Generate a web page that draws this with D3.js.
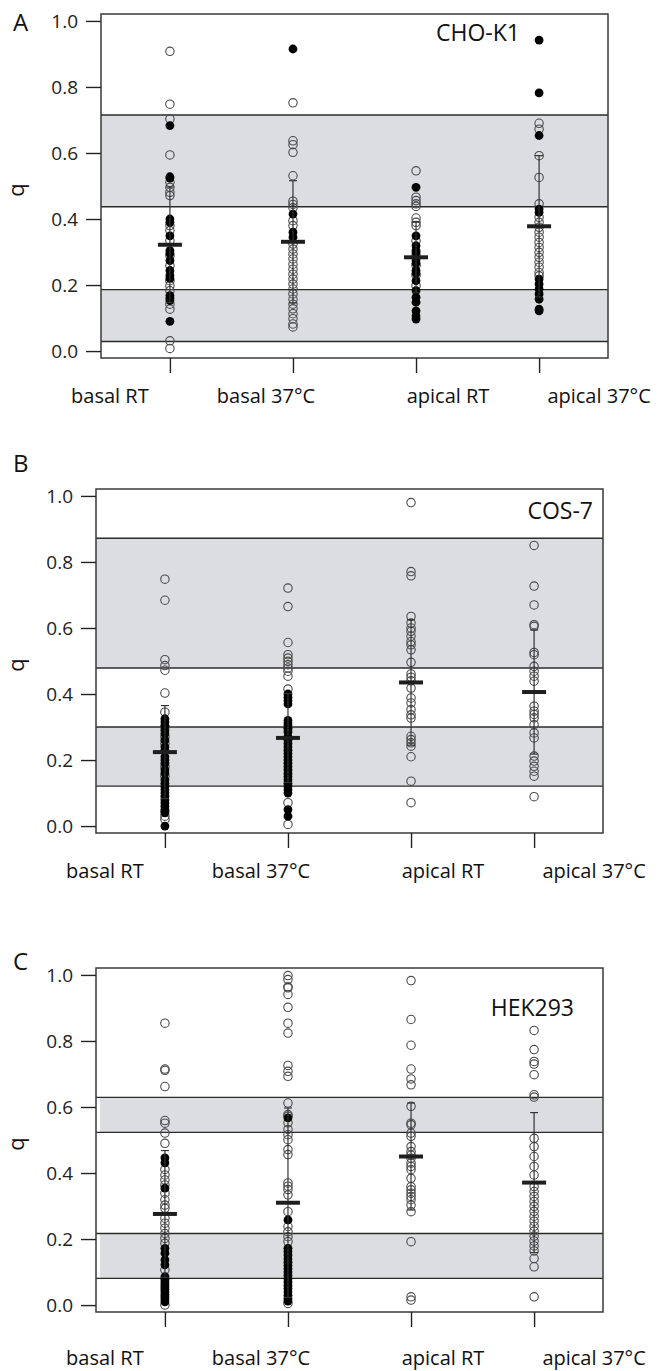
<!DOCTYPE html>
<html>
<head>
<meta charset="utf-8">
<script src="https://cdn.jsdelivr.net/npm/d3@7"></script>
<style>
  body { margin: 0; background: #fff; }
  svg { display: block; font-family: "Open Sans", sans-serif; }
</style>
</head>
<body>
<svg id="chart" width="657" height="1371"></svg>
<script>
const categories = ["basal RT", "basal 37°C", "apical RT", "apical 37°C"];
const yTicks = [0, 0.2, 0.4, 0.6, 0.8, 1.0];

// CHO-K1
const choOpen = [
  [0.908, 0.748, 0.703, 0.594, 0.511, 0.496, 0.481, 0.471, 0.38, 0.365, 0.334, 0.289, 0.259, 0.213, 0.198, 0.183, 0.142, 0.127, 0.031, 0.008],
  [0.752, 0.637, 0.625, 0.602, 0.531, 0.454, 0.444, 0.434, 0.395, 0.38, 0.324, 0.309, 0.294, 0.279, 0.263, 0.248, 0.233, 0.218, 0.203, 0.188, 0.173, 0.157, 0.142, 0.128, 0.113, 0.098, 0.082, 0.073],
  [0.546, 0.466, 0.456, 0.446, 0.438, 0.403, 0.39, 0.38, 0.334, 0.289, 0.259, 0.229, 0.198],
  [0.69, 0.672, 0.592, 0.526, 0.446, 0.405, 0.39, 0.375, 0.36, 0.345, 0.329, 0.314, 0.299, 0.284, 0.269, 0.254, 0.238, 0.228]
];
const choFilled = [
  [0.683, 0.528, 0.524, 0.4, 0.39, 0.349, 0.304, 0.296, 0.274, 0.244, 0.229, 0.22, 0.168, 0.16, 0.153, 0.09],
  [0.915, 0.415, 0.36, 0.345],
  [0.496, 0.349, 0.319, 0.304, 0.298, 0.274, 0.266, 0.244, 0.236, 0.213, 0.183, 0.163, 0.148, 0.122, 0.107, 0.097],
  [0.942, 0.782, 0.653, 0.43, 0.42, 0.218, 0.203, 0.188, 0.173, 0.157, 0.127, 0.122]
];
const choMean = [0.322, 0.331, 0.284, 0.378];
const choSD = [0.175, 0.185, 0.107, 0.214];
const choBands = [[0.029, 0.186], [0.437, 0.715]];

// COS-7
const cosOpen = [
  [0.748, 0.684, 0.504, 0.486, 0.472, 0.403, 0.345, 0.30, 0.27, 0.25, 0.18, 0.15, 0.03, 0.02],
  [0.721, 0.665, 0.556, 0.519, 0.509, 0.499, 0.489, 0.479, 0.469, 0.454, 0.415, 0.30, 0.071, 0.005],
  [0.98, 0.771, 0.758, 0.635, 0.615, 0.6, 0.59, 0.575, 0.559, 0.549, 0.534, 0.496, 0.461, 0.451, 0.44, 0.418, 0.388, 0.373, 0.353, 0.337, 0.327, 0.272, 0.262, 0.252, 0.242, 0.21, 0.136, 0.071],
  [0.85, 0.727, 0.67, 0.61, 0.605, 0.526, 0.519, 0.484, 0.469, 0.454, 0.439, 0.363, 0.348, 0.338, 0.328, 0.307, 0.282, 0.267, 0.212, 0.197, 0.181, 0.166, 0.151, 0.089]
];
const cosFilled = [
  [0.325, 0.315, 0.305, 0.29, 0.28, 0.26, 0.24, 0.23, 0.21, 0.2, 0.19, 0.17, 0.16, 0.14, 0.13, 0.12, 0.11, 0.10, 0.09, 0.08, 0.07, 0.06, 0.05, 0.045, 0.04, 0.0],
  [0.40, 0.39, 0.38, 0.37, 0.32, 0.31, 0.295, 0.285, 0.27, 0.26, 0.25, 0.24, 0.23, 0.22, 0.21, 0.2, 0.19, 0.18, 0.17, 0.16, 0.15, 0.14, 0.13, 0.12, 0.11, 0.10, 0.05, 0.03],
  [],
  []
];
const cosMean = [0.224, 0.267, 0.435, 0.406];
const cosSD = [0.141, 0.135, 0.19, 0.188];
const cosBands = [[0.121, 0.30], [0.479, 0.872]];

// HEK293
const hekOpen = [
  [0.854, 0.715, 0.711, 0.662, 0.559, 0.551, 0.521, 0.49, 0.411, 0.394, 0.379, 0.364, 0.339, 0.319, 0.303, 0.293, 0.263, 0.248, 0.233, 0.217, 0.202, 0.187, 0.107, 0.0],
  [0.998, 0.986, 0.964, 0.961, 0.941, 0.902, 0.854, 0.824, 0.726, 0.708, 0.693, 0.612, 0.577, 0.572, 0.552, 0.532, 0.516, 0.501, 0.471, 0.456, 0.37, 0.36, 0.35, 0.334, 0.283, 0.238, 0.222, 0.207, 0.192, 0.005],
  [0.983, 0.865, 0.787, 0.715, 0.685, 0.667, 0.602, 0.551, 0.546, 0.521, 0.511, 0.48, 0.465, 0.454, 0.445, 0.43, 0.42, 0.41, 0.384, 0.359, 0.349, 0.339, 0.329, 0.319, 0.303, 0.283, 0.192, 0.025, 0.015],
  [0.832, 0.774, 0.738, 0.73, 0.698, 0.637, 0.63, 0.505, 0.48, 0.45, 0.42, 0.394, 0.359, 0.344, 0.329, 0.314, 0.299, 0.284, 0.269, 0.254, 0.239, 0.224, 0.209, 0.194, 0.179, 0.164, 0.141, 0.116, 0.025]
];
const hekFilled = [
  [0.446, 0.431, 0.354, 0.172, 0.157, 0.137, 0.122, 0.086, 0.078, 0.07, 0.062, 0.055, 0.048, 0.04, 0.032, 0.025, 0.018, 0.01],
  [0.567, 0.258, 0.172, 0.162, 0.152, 0.14, 0.13, 0.12, 0.11, 0.1, 0.09, 0.08, 0.07, 0.06, 0.05, 0.04, 0.03, 0.02, 0.012],
  [],
  []
];
const hekMean = [0.276, 0.31, 0.45, 0.371];
const hekSD = [0.192, 0.287, 0.162, 0.212];
const hekBands = [[0.081, 0.217], [0.523, 0.629]];

// layout
const svg = d3.select("#chart");
const boxW = 507, boxH = 344;
const labelShift = [-60, -27, 32, 60];

const panels = [
  { letter: "A", name: "CHO-K1", left: 101, top: 14, open: choOpen, filled: choFilled, mean: choMean, sd: choSD, bands: choBands,
    nameX: 520, nameY: 41, letterY: 31, labelY: 403, bandInset: 0 },
  { letter: "B", name: "COS-7", left: 96, top: 489, open: cosOpen, filled: cosFilled, mean: cosMean, sd: cosSD, bands: cosBands,
    nameX: 593, nameY: 519, letterY: 472, labelY: 878, bandInset: 0 },
  { letter: "C", name: "HEK293", left: 96, top: 968, open: hekOpen, filled: hekFilled, mean: hekMean, sd: hekSD, bands: hekBands,
    nameX: 574, nameY: 1016, letterY: 970, labelY: 1365, bandInset: 4 }
];

panels.forEach(p => {
  const g = svg.append("g").attr("transform", `translate(${p.left},${p.top})`);
  const x = d3.scalePoint().domain(categories).range([0, boxW]).padding(0.56);
  const y = d3.scaleLinear().domain([-0.021, 1.021]).range([boxH, 0]);

  g.append("rect").attr("width", boxW).attr("height", boxH).attr("fill", "#fff");

  // reference bands
  g.selectAll(".band").data(p.bands).join("rect")
    .attr("x", p.bandInset).attr("width", boxW - p.bandInset)
    .attr("y", d => y(d[1])).attr("height", d => y(d[0]) - y(d[1]))
    .attr("fill", "#dcdde0");
  g.selectAll(".bandline").data(p.bands.flat()).join("line")
    .attr("x1", 0).attr("x2", boxW)
    .attr("y1", d => y(d)).attr("y2", d => y(d))
    .attr("stroke", "#2b2b2b").attr("stroke-width", 1.4);

  // points
  categories.forEach((c, i) => {
    g.selectAll(null).data(p.open[i]).join("circle")
      .attr("cx", x(c)).attr("cy", d => y(d)).attr("r", 4.2)
      .attr("fill", "none").attr("stroke", "#4a4a4a").attr("stroke-width", 1.1);
    g.selectAll(null).data(p.filled[i]).join("circle")
      .attr("cx", x(c)).attr("cy", d => y(d)).attr("r", 4.4)
      .attr("fill", "#000");
  });

  // error bars and means
  const stats = categories.map((c, i) => ({ c, m: p.mean[i], s: p.sd[i] }));
  g.selectAll(".err").data(stats).join("line")
    .attr("x1", d => x(d.c)).attr("x2", d => x(d.c))
    .attr("y1", d => y(d.m + d.s)).attr("y2", d => y(d.m - d.s))
    .attr("stroke", "#333").attr("stroke-width", 1.2);
  ["up", "lo"].forEach(k => {
    g.selectAll(null).data(stats).join("line")
      .attr("x1", d => x(d.c) - 4).attr("x2", d => x(d.c) + 4)
      .attr("y1", d => y(k === "up" ? d.m + d.s : d.m - d.s))
      .attr("y2", d => y(k === "up" ? d.m + d.s : d.m - d.s))
      .attr("stroke", "#333").attr("stroke-width", 1.2);
  });
  g.selectAll(".mean").data(stats).join("line")
    .attr("x1", d => x(d.c) - 12).attr("x2", d => x(d.c) + 12)
    .attr("y1", d => y(d.m)).attr("y2", d => y(d.m))
    .attr("stroke", "#1e1e1e").attr("stroke-width", 4);

  // frame
  g.append("rect").attr("width", boxW).attr("height", boxH)
    .attr("fill", "none").attr("stroke", "#3a3a3a").attr("stroke-width", 1.5);

  // axes
  const ya = g.append("g").call(d3.axisLeft(y).tickValues(yTicks).tickFormat(d3.format(".1f")).tickSize(15).tickPadding(8));
  ya.select(".domain").remove();
  ya.selectAll("line").attr("stroke", "#222").attr("stroke-width", 1.4);
  ya.selectAll("text").attr("font-size", 19).attr("fill", "#222").attr("font-family", "Open Sans");

  const xa = g.append("g").attr("transform", `translate(0,${boxH})`)
    .call(d3.axisBottom(x).tickSize(15).tickFormat(""));
  xa.select(".domain").remove();
  xa.selectAll("line").attr("stroke", "#222").attr("stroke-width", 1.4);

  g.selectAll(".xlab").data(categories).join("text")
    .attr("x", (d, i) => x(d) + labelShift[i])
    .attr("y", p.labelY - p.top)
    .attr("text-anchor", "middle")
    .attr("font-size", 20).attr("fill", "#111")
    .text(d => d);

  svg.append("text")
    .attr("transform", `translate(24,${p.top + y(0.5) + 4}) rotate(-90)`)
    .attr("text-anchor", "middle").attr("font-size", 22).attr("fill", "#111")
    .text("q");

  svg.append("text").attr("x", 13).attr("y", p.letterY)
    .attr("font-size", 24).attr("fill", "#111").text(p.letter);
  svg.append("text").attr("x", p.nameX).attr("y", p.nameY)
    .attr("text-anchor", "end").attr("font-size", 23).attr("fill", "#111").text(p.name);
});
</script>
</body>
</html>
